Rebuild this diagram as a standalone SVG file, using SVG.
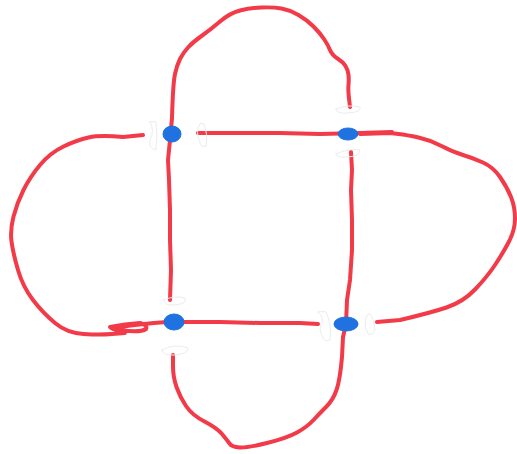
<svg xmlns="http://www.w3.org/2000/svg" width="517" height="454" viewBox="0 0 517 454">
<style>
.r{fill:none;stroke:#f23a48;stroke-width:4;stroke-linecap:round;stroke-linejoin:round}
.f{fill:none;stroke:#ececec;stroke-width:1;stroke-linecap:round;stroke-linejoin:round}
.n{fill:#1f72e0;stroke:#1f72e0;stroke-width:1}
</style>
<rect width="517" height="454" fill="#ffffff"/>
<g id="connectors">
<path class="r" d="M170,300 L171,270 L170,240 L170,210 L169,180 L168,160 L170,140 L172,118 Q173,83 175,74 Q177,65 180,59 Q183,53 188,47.5 Q193,42 201.5,36 Q210,30 220,21.5 Q230,13 240,10.5 Q250,8 261.5,7.5 Q273,7 281.5,8.5 Q290,10 298.5,15 Q307,20 313.5,26.5 Q320,33 324,39 Q328,45 330,50 Q332,55 337.5,58.5 Q343,62 345.5,66 Q348,70 348.5,75 Q349,80 348.5,85 Q348,90 349,98.5 L350,107"/>
<path class="r" d="M143,135 L123,137 Q100,135 88.5,137.5 Q77,140 63.5,146.5 Q50,153 40,165 Q30,177 23.5,190 Q17,203 13.5,216.5 Q10,230 11.5,241.5 Q13,253 18,270 Q23,287 33,300 Q43,313 55,323 Q67,333 83.5,334 Q100,335 112,334 L125,333 Q110,329 110,327 Q125,324 140,323 Q148,325 146,329 Q140,333 120,330 Q106,328 120,327 Q140,324 167,322"/>
<path class="r" d="M172,322 L220,322 L260,323 L300,323 L318,324"/>
<path class="r" d="M198,133 L240,133 L280,133 L320,134 L360,133 L392,132"/>
<path class="r" d="M377,322 L400,320 Q430,313 446.5,307.5 Q463,302 475,289.5 Q487,277 495,265 Q503,253 509,241.5 Q515,230 515,218.5 Q515,207 511,197 Q507,187 500,177 Q493,167 483,162.5 Q473,158 463,155 Q453,152 441.5,146 Q430,140 418.5,137.5 Q407,135 398.5,134 L390,133 L360,134"/>
<path class="r" d="M351,152 L352,170 L351,190 L352,220 L352,250 L350,280 L347,300 L346,324 L343,337 L342,357 Q340,380 336.5,390 Q333,400 326.5,406.5 Q320,413 313.5,420 Q307,427 297,432.5 Q287,438 267,443 Q247,448 239.5,447.5 Q232,447 229.5,443.5 Q227,440 222,434 Q217,428 204.5,421.5 Q192,415 186,406 Q180,397 176.5,387 Q173,377 173,366 L173,355"/>
</g>
<g id="marks">
<path class="f" d="M150,122 Q155,130 150,140 Q148,148 156,150 Q158,135 156,122 Z"/>
<path class="f" d="M200,124 Q195,132 200,142 Q200,148 206,146 Q208,134 204,124 Z"/>
<path class="f" d="M336,109 Q348,104 360,107 Q362,112 348,113 Q336,114 336,109 Z"/>
<path class="f" d="M336,154 Q348,148 360,150 Q360,156 348,157 Q336,158 336,154 Z"/>
<path class="f" d="M164,300 Q175,295 185,298 Q187,304 175,305 Q164,306 164,300 Z"/>
<path class="f" d="M162,350 Q175,343 188,348 Q188,354 175,355 Q162,356 162,350 Z"/>
<path class="f" d="M318,312 Q326,318 320,328 Q322,344 330,340 Q332,324 326,312 Z"/>
<path class="f" d="M368,314 Q362,322 368,334 Q372,336 375,330 Q374,318 370,314 Z"/>
</g>
<g id="node1"><ellipse class="n" cx="172" cy="134" rx="9" ry="8"/></g>
<g id="node2"><ellipse class="n" cx="348" cy="134" rx="10" ry="6"/></g>
<g id="node3"><ellipse class="n" cx="174" cy="322" rx="10" ry="8"/></g>
<g id="node4"><ellipse class="n" cx="346" cy="324" rx="12" ry="7"/></g>
</svg>
